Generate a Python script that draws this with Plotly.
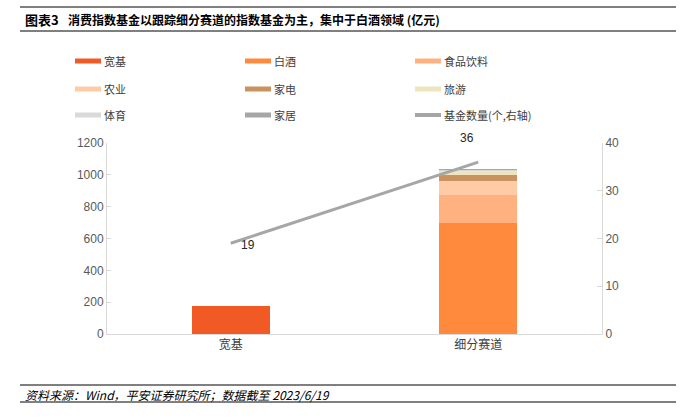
import plotly.graph_objects as go

# ---------------- data ----------------
categories = ["宽基", "细分赛道"]
series_names = ["宽基", "白酒", "食品饮料", "农业", "家电", "旅游", "体育", "家居"]
kuanji = [173, 0]
baijiu = [0, 697]
shipin = [0, 178]
nongye = [0, 84]
jiadian = [0, 42]
lvyou = [0, 27]
tiyu = [0, 3]
jiaju = [0, 5]
fund_count = [19, 36]
line_name = "基金数量(个,右轴)"

series_values = [kuanji, baijiu, shipin, nongye, jiadian, lvyou, tiyu, jiaju]
colors = ["#F15A24", "#FF8A3D", "#FFB27F", "#FFCBA6", "#C9925F", "#EEE4BE", "#D9D9D9", "#A6A6A6"]
line_color = "#A6A6A6"

W, H = 688, 420
L, R, T, B = 107, 86, 143, 86
PW, PH = W - L - R, H - T - B

def px_x(px):
    return (px - L) / PW

def px_y(py):
    return (H - B - py) / PH

FONT = "Liberation Sans, Arial, Noto Sans CJK SC, sans-serif"
CJK = "Noto Sans CJK SC, Liberation Sans, sans-serif"

fig = go.Figure()

for name, vals, c in zip(series_names, series_values, colors):
    fig.add_trace(go.Bar(
        x=categories, y=vals, name=name, marker=dict(color=c, line=dict(width=0)),
        showlegend=False, hoverinfo="skip",
    ))

fig.add_trace(go.Scatter(
    x=categories, y=fund_count, mode="lines", name=line_name,
    line=dict(color=line_color, width=3), yaxis="y2", showlegend=False,
))

# data labels for line
label_offsets = [(17, -2), (-11, 24)]
for xc, yv, (dx, dy) in zip(categories, fund_count, label_offsets):
    fig.add_annotation(x=xc, y=yv, yref="y2", xref="x", text=str(yv), showarrow=False,
                       xshift=dx, yshift=dy, font=dict(family=FONT, size=12, color="#262626"))

# manual legend (3 columns x 3 rows)
legend_names = series_names + [line_name]
legend_colors = colors + [line_color]
col_x = [75, 245, 415]
row_y = [61, 89, 115]
for i, (nm, c) in enumerate(zip(legend_names, legend_colors)):
    cx = col_x[i % 3]
    ry = row_y[i // 3]
    fig.add_shape(type="line", xref="paper", yref="paper", x0=px_x(cx), x1=px_x(cx + 26),
                  y0=px_y(ry), y1=px_y(ry), line=dict(color=c, width=5 if i < 8 else 4))
    fig.add_annotation(xref="paper", yref="paper", x=px_x(cx + 27), y=px_y(ry), xanchor="left",
                       yanchor="middle", text=nm, showarrow=False,
                       font=dict(family=CJK, size=11, color="#404040"))

# title and footer
fig.add_annotation(xref="paper", yref="paper", x=px_x(23), y=px_y(20), xanchor="left", yanchor="middle",
                   text="<b>图表3</b>", showarrow=False, font=dict(family=CJK, size=13, color="#000000"))
fig.add_annotation(xref="paper", yref="paper", x=px_x(66), y=px_y(20), xanchor="left", yanchor="middle",
                   text="<b>消费指数基金以跟踪细分赛道的指数基金为主，集中于白酒领域 (亿元)</b>", showarrow=False,
                   font=dict(family=CJK, size=12, color="#000000"))
fig.add_annotation(xref="paper", yref="paper", x=px_x(23), y=px_y(394), xanchor="left", yanchor="middle",
                   text="<i>资料来源：Wind，平安证券研究所；数据截至 2023/6/19</i>", showarrow=False,
                   font=dict(family=CJK, size=12, color="#000000"))

for yy in [7, 31, 385, 402]:
    fig.add_shape(type="line", xref="paper", yref="paper", x0=px_x(20), x1=px_x(676),
                  y0=px_y(yy), y1=px_y(yy), line=dict(color="#000000", width=1))

fig.update_layout(
    width=W, height=H,
    margin=dict(l=L, r=R, t=T, b=B, pad=0, autoexpand=False),
    paper_bgcolor="white", plot_bgcolor="white",
    barmode="stack", bargap=0.685,
    font=dict(family=FONT, size=12, color="#595959"),
    showlegend=False,
    xaxis=dict(type="category", showline=True, linecolor="#D9D9D9", linewidth=1, ticks="",
               showgrid=False, tickfont=dict(family=CJK, size=12, color="#404040")),
    yaxis=dict(range=[0, 1200], dtick=200, showline=True, linecolor="#D9D9D9", ticks="inside",
               ticklen=4, tickcolor="#D9D9D9", showgrid=False, zeroline=False,
               tickfont=dict(size=12, color="#595959")),
    yaxis2=dict(range=[0, 40], dtick=10, overlaying="y", side="right", showline=True,
                linecolor="#D9D9D9", ticks="inside", ticklen=5, tickcolor="#D9D9D9",
                showgrid=False, zeroline=False, tickfont=dict(size=12, color="#595959")),
)

fig.write_html("out.html", config={"displayModeBar": False},
               post_script="document.body.style.margin='0';document.body.style.overflow='hidden';")
